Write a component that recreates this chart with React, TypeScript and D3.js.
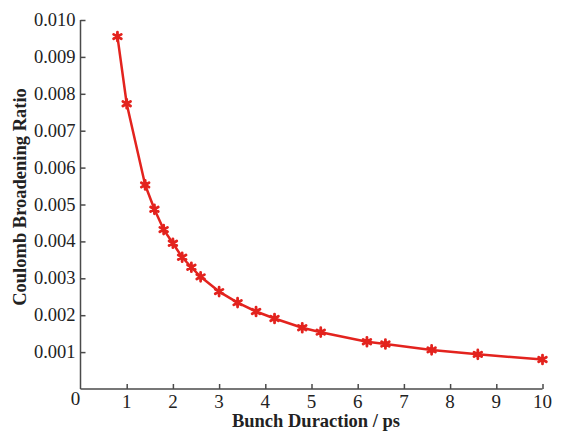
import React, { useEffect, useRef } from "react";
import * as d3 from "d3";

// Bunch duration (ps) and the corresponding Coulomb broadening ratio
const durations = [0.8, 1.0, 1.4, 1.6, 1.8, 2.0, 2.2, 2.4, 2.6, 3.0, 3.4, 3.8, 4.2, 4.8, 5.2, 6.2, 6.6, 7.6, 8.6, 10];
const ratios = [0.00955, 0.00773, 0.00553, 0.00487, 0.00432, 0.00395, 0.00357, 0.0033, 0.00304, 0.00264, 0.00234, 0.0021, 0.00191, 0.00166, 0.00154, 0.00128, 0.00122, 0.00106, 0.00094, 0.0008];

const xTicks = [1, 2, 3, 4, 5, 6, 7, 8, 9, 10];
const yTicks = [0.001, 0.002, 0.003, 0.004, 0.005, 0.006, 0.007, 0.008, 0.009, 0.01];

const W = 562;
const H = 432;
const left = 80.5;
const right = 542.5;
const top = 20;
const bottom = 389;
const RED = "#e3231e";
const AXIS = "#4a4a4a";
const FONT = "'Liberation Serif', 'Times New Roman', serif";

export default function App() {
  const ref = useRef<SVGSVGElement | null>(null);

  useEffect(() => {
    const svg = d3.select(ref.current);
    svg.selectAll("*").remove();

    const x = d3.scaleLinear().domain([0, 10]).range([left, right]);
    const y = d3.scaleLinear().domain([0, 0.01]).range([bottom, top]);

    // Left axis: ticks point inward
    const yAxis = svg
      .append("g")
      .attr("transform", `translate(${left},0)`)
      .call(
        d3
          .axisRight(y)
          .tickValues(yTicks)
          .tickSize(5)
          .tickFormat(() => "")
      );
    yAxis.select(".domain").attr("stroke", AXIS).attr("stroke-width", 1.5).attr("d", `M0,${top}V${bottom}`);
    yAxis.selectAll(".tick line").attr("stroke", AXIS).attr("stroke-width", 1.5);

    // Bottom axis: ticks point upward
    const xAxis = svg
      .append("g")
      .attr("transform", `translate(0,${bottom})`)
      .call(
        d3
          .axisTop(x)
          .tickValues(xTicks)
          .tickSize(5)
          .tickFormat(() => "")
      );
    xAxis.select(".domain").attr("stroke", AXIS).attr("stroke-width", 1.5).attr("d", `M${left},0H${right}`);
    xAxis.selectAll(".tick line").attr("stroke", AXIS).attr("stroke-width", 1.5);

    // Tick labels
    svg
      .append("g")
      .selectAll("text")
      .data(yTicks)
      .join("text")
      .attr("x", left - 5)
      .attr("y", (d) => y(d) + 6)
      .attr("text-anchor", "end")
      .attr("font-family", FONT)
      .attr("font-size", 18.5)
      .attr("fill", "#222")
      .text((d) => d3.format(".3f")(d));

    svg
      .append("g")
      .selectAll("text")
      .data(xTicks)
      .join("text")
      .attr("x", (d) => x(d))
      .attr("y", 408)
      .attr("text-anchor", "middle")
      .attr("font-family", FONT)
      .attr("font-size", 19)
      .attr("fill", "#222")
      .text((d) => String(d));

    svg
      .append("text")
      .attr("x", left - 5)
      .attr("y", 405)
      .attr("text-anchor", "middle")
      .attr("font-family", FONT)
      .attr("font-size", 19)
      .attr("fill", "#222")
      .text("0");

    // Axis titles
    svg
      .append("text")
      .attr("x", 316)
      .attr("y", 427)
      .attr("text-anchor", "middle")
      .attr("font-family", FONT)
      .attr("font-weight", "bold")
      .attr("font-size", 18.5)
      .attr("fill", "#222")
      .text("Bunch Duraction / ps");

    svg
      .append("text")
      .attr("transform", `translate(26,197) rotate(-90)`)
      .attr("text-anchor", "middle")
      .attr("font-family", FONT)
      .attr("font-weight", "bold")
      .attr("font-size", 18.5)
      .attr("fill", "#222")
      .text("Coulomb Broadening Ratio");

    const pts = durations.map((d, i) => [d, ratios[i]] as [number, number]);

    // Curve through the measured points
    svg
      .append("path")
      .datum(pts)
      .attr("fill", "none")
      .attr("stroke", RED)
      .attr("stroke-width", 2.5)
      .attr("stroke-linejoin", "round")
      .attr(
        "d",
        d3
          .line<[number, number]>()
          .x((p) => x(p[0]))
          .y((p) => y(p[1]))
      );

    // Star markers
    const sym = d3.symbol().type(d3.symbolAsterisk).size(55);
    svg
      .append("g")
      .selectAll("path")
      .data(pts)
      .join("path")
      .attr("transform", (p) => `translate(${x(p[0])},${y(p[1])})`)
      .attr("d", sym()!)
      .attr("fill", "none")
      .attr("stroke", RED)
      .attr("stroke-width", 2.8)
      .attr("stroke-linecap", "round");
    const core = d3.symbol().type(d3.symbolCircle).size(16);
    svg
      .append("g")
      .selectAll("path")
      .data(pts)
      .join("path")
      .attr("transform", (p) => `translate(${x(p[0])},${y(p[1])})`)
      .attr("d", core()!)
      .attr("fill", RED);
  }, []);

  return (
    <div style={{ position: "fixed", left: 0, top: 0, width: W, height: H, background: "#fff" }}>
      <svg ref={ref} width={W} height={H} viewBox={`0 0 ${W} ${H}`} />
    </div>
  );
}
